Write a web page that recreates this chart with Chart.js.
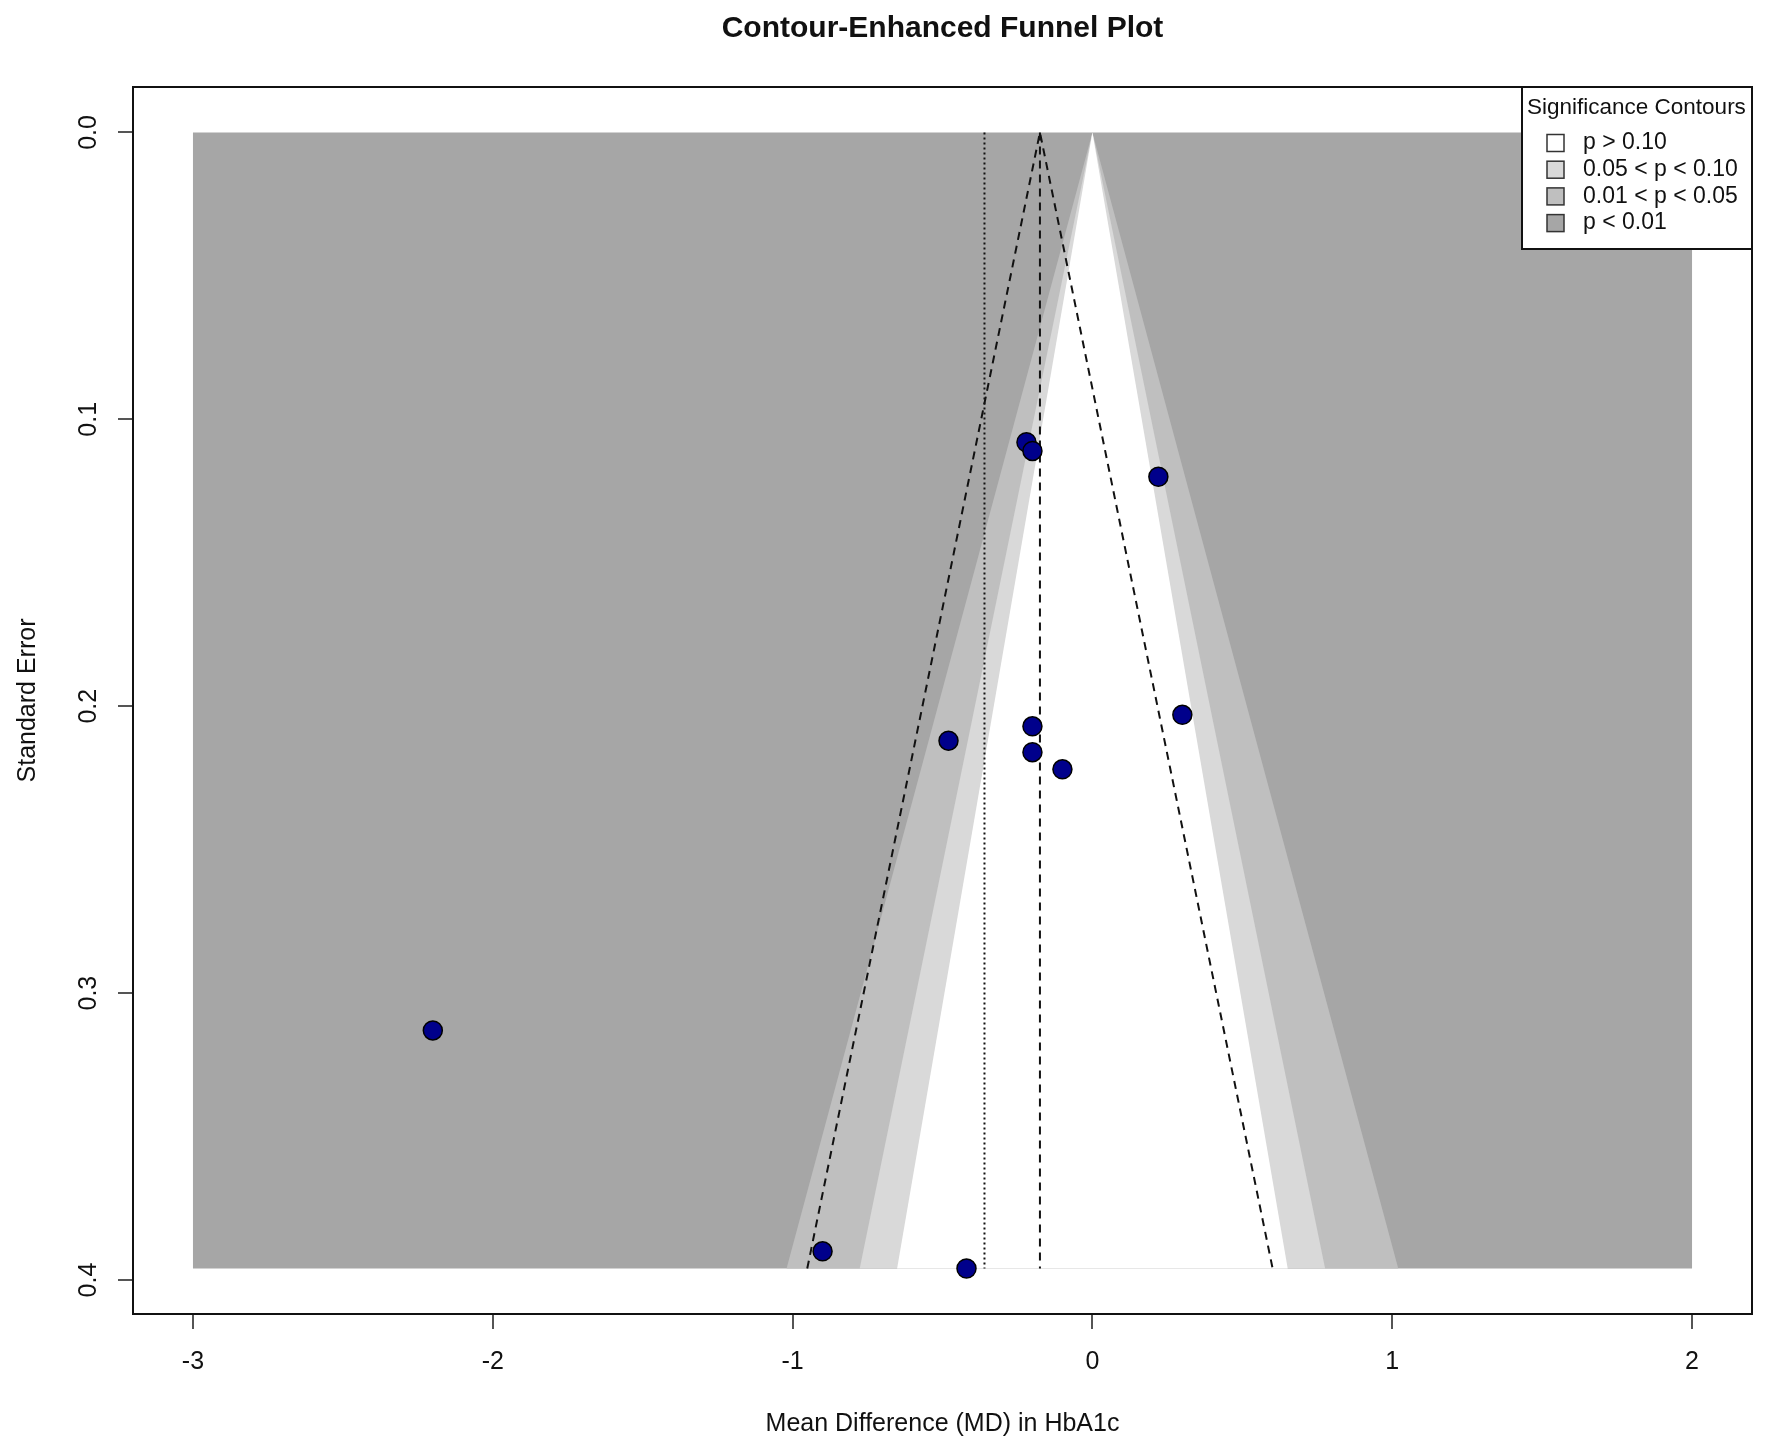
<!DOCTYPE html>
<html>
<head>
<meta charset="utf-8">
<script src="https://cdn.jsdelivr.net/npm/chart.js@4.4.1/dist/chart.umd.min.js"></script>
<style>
  html, body { margin: 0; padding: 0; background: #fff; }
  #wrap { width: 1772px; height: 1444px; position: relative; }
</style>
</head>
<body>
<div id="wrap"><canvas id="funnel"></canvas></div>
<script>
// study estimates
const studyMD = [-0.22, -0.20, 0.22, 0.30, -0.20, -0.48, -0.20, -0.10, -2.20, -0.90, -0.42];
const studySE = [0.108, 0.111, 0.120, 0.203, 0.207, 0.212, 0.216, 0.222, 0.313, 0.390, 0.396];

// pooled estimate (dashed funnel) and the other estimate (dotted line)
const pooledMD = -0.175;
const altMD = -0.36;

// contour levels, from widest to narrowest region
const contourZ = [2.576, 1.960, 1.645];
const contourColours = ['#bfbfbf', '#d9d9d9', '#ffffff'];
const backColour = '#a6a6a6';
const shadeRange = [-3, 2];

const xTicks = [-3, -2, -1, 0, 1, 2];
const xTickLabels = ['-3', '-2', '-1', '0', '1', '2'];
const yTicks = [0, 0.1, 0.2, 0.3, 0.4];
const yTickLabels = ['0.0', '0.1', '0.2', '0.3', '0.4'];

const legendTitle = 'Significance Contours';
const legendLabels = ['p > 0.10', '0.05 < p < 0.10', '0.01 < p < 0.05', 'p < 0.01'];
const legendColours = ['#ffffff', '#d9d9d9', '#bfbfbf', '#a6a6a6'];

const FONT = '"Liberation Sans", Arial, Helvetica, sans-serif';
const maxSE = Math.max(...studySE);
const xSpan = shadeRange[1] - shadeRange[0];

function funnel(centre, z) {
    return [
        { x: centre - z * maxSE, y: maxSE },
        { x: centre, y: 0 },
        { x: centre + z * maxSE, y: maxSE }
    ];
}

const datasets = [];
datasets.push({
    data: [
        { x: shadeRange[0], y: 0 }, { x: shadeRange[1], y: 0 },
        { x: shadeRange[1], y: maxSE }, { x: shadeRange[0], y: maxSE }
    ],
    showLine: true, fill: 'shape', backgroundColor: backColour,
    borderWidth: 0, pointRadius: 0, order: 20
});
contourZ.forEach((z, i) => {
    datasets.push({
        data: funnel(0, z),
        showLine: true, fill: 'shape', backgroundColor: contourColours[i],
        borderWidth: 0, pointRadius: 0, order: 19 - i
    });
});
datasets.push({
    data: funnel(pooledMD, 1.96),
    showLine: true, fill: false, borderColor: '#111', borderWidth: 2,
    borderDash: [8, 6], pointRadius: 0, order: 5
});
datasets.push({
    data: [{ x: pooledMD, y: 0 }, { x: pooledMD, y: maxSE }],
    showLine: true, fill: false, borderColor: '#111', borderWidth: 2,
    borderDash: [8, 6], pointRadius: 0, order: 5
});
datasets.push({
    data: [{ x: altMD, y: 0 }, { x: altMD, y: maxSE }],
    showLine: true, fill: false, borderColor: '#111', borderWidth: 2,
    borderDash: [2, 3], pointRadius: 0, order: 5
});
datasets.push({
    data: studyMD.map((m, i) => ({ x: m, y: studySE[i] })),
    showLine: false, pointRadius: 9.5, pointBackgroundColor: '#00008b',
    pointBorderColor: '#000', pointBorderWidth: 1.5, order: 1
});

const framePlugin = {
    id: 'frame',
    afterDraw(chart) {
        const ctx = chart.ctx;
        const a = chart.chartArea;
        const ys = chart.scales.y;
        ctx.save();
        // y tick labels, written along the axis as R does
        ctx.fillStyle = '#111';
        ctx.font = '25px ' + FONT;
        ctx.textAlign = 'center';
        ctx.textBaseline = 'middle';
        yTicks.forEach((v, i) => {
            ctx.save();
            ctx.translate(89, ys.getPixelForValue(v));
            ctx.rotate(-Math.PI / 2);
            ctx.fillText(yTickLabels[i], 0, 0);
            ctx.restore();
        });
        // box round the plot
        ctx.strokeStyle = '#111';
        ctx.lineWidth = 2;
        ctx.strokeRect(a.left, a.top, a.right - a.left, a.bottom - a.top);

        // legend box in the top right corner
        const w = 230, h = 162;
        const lx = a.right - w, ly = a.top;
        ctx.fillStyle = '#fff';
        ctx.fillRect(lx, ly, w, h);
        ctx.strokeRect(lx, ly, w, h);
        ctx.fillStyle = '#111';
        ctx.font = '22.5px ' + FONT;
        ctx.textAlign = 'left';
        ctx.fillText(legendTitle, lx + 5, ly + 21);
        ctx.font = '23px ' + FONT;
        legendLabels.forEach((lab, i) => {
            const cy = ly + 56 + i * 26.7;
            ctx.fillStyle = legendColours[i];
            ctx.fillRect(lx + 25, cy - 8.5, 17, 17);
            ctx.strokeStyle = '#333';
            ctx.lineWidth = 1.5;
            ctx.strokeRect(lx + 25, cy - 8.5, 17, 17);
            ctx.fillStyle = '#111';
            ctx.fillText(lab, lx + 61, cy);
        });
        ctx.restore();
    }
};

new Chart(document.getElementById('funnel'), {
    type: 'scatter',
    data: { datasets: datasets },
    options: {
        responsive: true,
        maintainAspectRatio: false,
        animation: false,
        events: [],
        layout: { padding: { left: 0, right: 20, top: 0, bottom: 0 } },
        plugins: {
            legend: { display: false },
            tooltip: { enabled: false },
            title: {
                display: true,
                text: 'Contour-Enhanced Funnel Plot',
                fullSize: false,
                color: '#111',
                font: { family: FONT, size: 30, weight: 'bold' },
                padding: { top: 11, bottom: 40 }
            }
        },
        scales: {
            x: {
                type: 'linear',
                min: shadeRange[0] - 0.04 * xSpan,
                max: shadeRange[1] + 0.04 * xSpan,
                afterBuildTicks: s => { s.ticks = xTicks.map(v => ({ value: v })); },
                afterFit: s => { s.height = 130; },
                border: { display: false },
                grid: { drawOnChartArea: false, drawTicks: true, tickLength: 15, color: '#555', lineWidth: 2 },
                ticks: {
                    color: '#111', padding: 18, maxRotation: 0,
                    font: { family: FONT, size: 25 },
                    callback: v => xTickLabels[xTicks.indexOf(v)]
                },
                title: {
                    display: true, text: 'Mean Difference (MD) in HbA1c', color: '#111',
                    font: { family: FONT, size: 25 }, padding: { top: 0, bottom: 5 }
                }
            },
            y: {
                type: 'linear',
                reverse: true,
                min: -0.04 * maxSE,
                max: 1.04 * maxSE,
                afterBuildTicks: s => { s.ticks = yTicks.map(v => ({ value: v })); },
                afterFit: s => { s.width = 133; },
                border: { display: false },
                grid: { drawOnChartArea: false, drawTicks: true, tickLength: 15, color: '#555', lineWidth: 2 },
                ticks: { display: false },
                title: {
                    display: true, text: 'Standard Error', color: '#111',
                    font: { family: FONT, size: 25 }, padding: { top: 13, bottom: 0 }
                }
            }
        }
    },
    plugins: [framePlugin]
});
</script>
</body>
</html>
